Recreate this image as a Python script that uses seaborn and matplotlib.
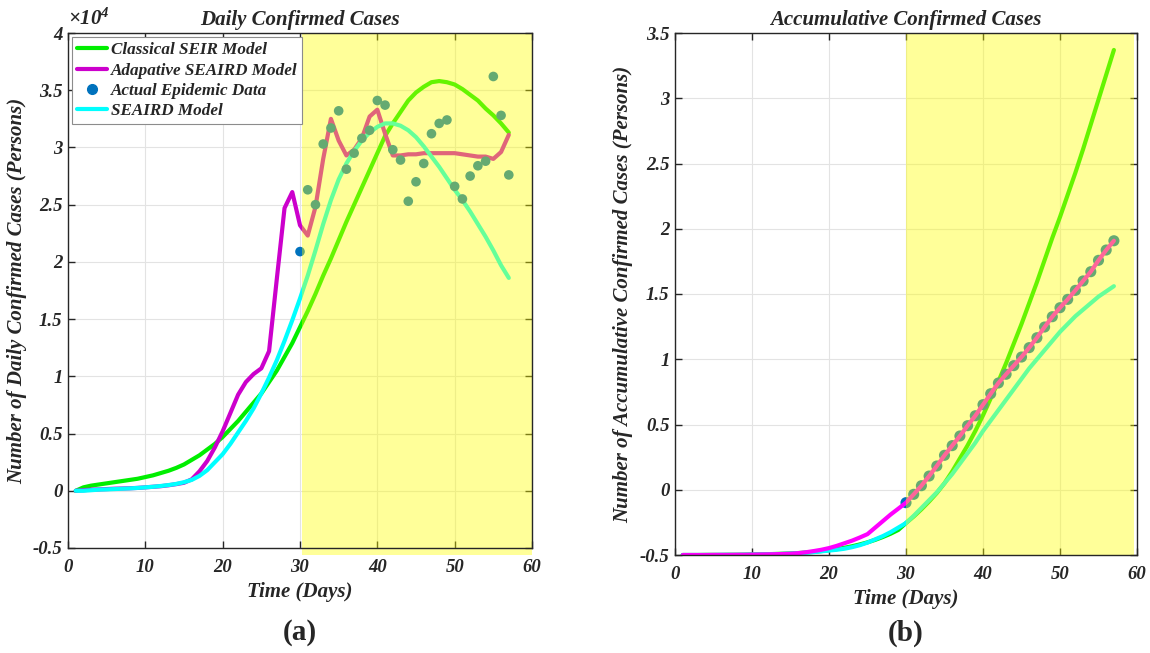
import numpy as np
import pandas as pd
import seaborn as sns
import matplotlib
matplotlib.use("Agg")
import matplotlib.pyplot as plt
from matplotlib.patches import Rectangle
from matplotlib.lines import Line2D
from matplotlib.ticker import FuncFormatter, MultipleLocator

# ---------------- data (daily cases in units of 1e4) ----------------
days = np.arange(1, 58)
days_obs = np.arange(30, 58)

seir_daily = [0.00, 0.03, 0.045, 0.055, 0.065, 0.075, 0.085, 0.095, 0.105, 0.12,
              0.135, 0.155, 0.175, 0.20, 0.23, 0.27, 0.31, 0.36, 0.41, 0.47,
              0.54, 0.61, 0.69, 0.77, 0.85, 0.95, 1.05, 1.17, 1.29, 1.43,
              1.57, 1.72, 1.88, 2.03, 2.19, 2.35, 2.50, 2.65, 2.80, 2.95,
              3.10, 3.21, 3.31, 3.41, 3.48, 3.53, 3.57, 3.58, 3.57, 3.55,
              3.51, 3.46, 3.41, 3.34, 3.28, 3.21, 3.13]

adaptive_daily = [0.00, 0.005, 0.01, 0.012, 0.015, 0.018, 0.02, 0.022, 0.025, 0.03,
                  0.035, 0.04, 0.048, 0.058, 0.07, 0.10, 0.17, 0.26, 0.38, 0.52,
                  0.68, 0.84, 0.95, 1.02, 1.07, 1.22, 1.85, 2.47, 2.61, 2.32,
                  2.23, 2.48, 2.90, 3.25, 3.06, 2.93, 2.98, 3.08, 3.27, 3.33,
                  3.12, 2.93, 2.93, 2.94, 2.94, 2.95, 2.95, 2.95, 2.95, 2.95,
                  2.94, 2.93, 2.92, 2.92, 2.90, 2.96, 3.11]

seaird_daily = [0.00, 0.00, 0.005, 0.01, 0.012, 0.015, 0.018, 0.021, 0.025, 0.03,
                0.035, 0.042, 0.05, 0.06, 0.075, 0.095, 0.13, 0.18, 0.25, 0.32,
                0.41, 0.51, 0.61, 0.72, 0.85, 0.99, 1.14, 1.31, 1.49, 1.68,
                1.88, 2.10, 2.33, 2.54, 2.72, 2.86, 2.97, 3.06, 3.13, 3.18,
                3.21, 3.21, 3.19, 3.15, 3.09, 3.01, 2.92, 2.83, 2.73, 2.63,
                2.54, 2.44, 2.33, 2.22, 2.10, 1.97, 1.86]

actual_daily = [2.09, 2.63, 2.50, 3.03, 3.17, 3.32, 2.81, 2.95, 3.08, 3.15,
                3.41, 3.37, 2.98, 2.89, 2.53, 2.70, 2.86, 3.12, 3.21, 3.24,
                2.66, 2.55, 2.75, 2.84, 2.88, 3.62, 3.28, 2.76]

# ---------------- accumulative cases ----------------
seir_cum = [-0.500, -0.500, -0.500, -0.499, -0.499, -0.499, -0.498, -0.498, -0.497, -0.496,
            -0.495, -0.494, -0.492, -0.490, -0.488, -0.485, -0.481, -0.476, -0.470, -0.463,
            -0.455, -0.445, -0.433, -0.419, -0.403, -0.384, -0.362, -0.337, -0.308, -0.255,
            -0.205, -0.150, -0.090, -0.025, 0.050, 0.140, 0.240, 0.340, 0.450, 0.570,
            0.700, 0.830, 0.970, 1.120, 1.270, 1.430, 1.590, 1.760, 1.930, 2.090,
            2.260, 2.430, 2.610, 2.800, 2.990, 3.180, 3.370]

adaptive_cum = [-0.500, -0.500, -0.500, -0.500, -0.499, -0.499, -0.499, -0.498, -0.498, -0.497,
                -0.496, -0.495, -0.494, -0.492, -0.490, -0.486, -0.479, -0.470, -0.460, -0.447,
                -0.430, -0.410, -0.390, -0.366, -0.340, -0.290, -0.240, -0.190, -0.145, -0.099,
                -0.035, 0.031, 0.105, 0.182, 0.264, 0.338, 0.412, 0.491, 0.567, 0.652,
                0.736, 0.818, 0.885, 0.951, 1.017, 1.089, 1.165, 1.247, 1.326, 1.395,
                1.459, 1.528, 1.600, 1.671, 1.758, 1.837, 1.908]

seaird_cum = [-0.500, -0.500, -0.500, -0.500, -0.500, -0.499, -0.499, -0.499, -0.498, -0.497,
              -0.496, -0.495, -0.494, -0.492, -0.490, -0.487, -0.483, -0.478, -0.472, -0.466,
              -0.460, -0.452, -0.440, -0.425, -0.405, -0.380, -0.355, -0.325, -0.290, -0.255,
              -0.200, -0.140, -0.080, -0.020, 0.050, 0.120, 0.200, 0.280, 0.360, 0.450,
              0.530, 0.610, 0.690, 0.770, 0.850, 0.930, 1.000, 1.070, 1.140, 1.210,
              1.270, 1.330, 1.380, 1.430, 1.480, 1.520, 1.560]

actual_cum = [-0.099, -0.035, 0.031, 0.105, 0.182, 0.264, 0.338, 0.412, 0.491, 0.567,
              0.652, 0.736, 0.818, 0.885, 0.951, 1.017, 1.089, 1.165, 1.247, 1.326,
              1.395, 1.459, 1.528, 1.600, 1.671, 1.758, 1.837, 1.908]

labels = ["Classical SEIR Model", "Adapative SEAIRD Model",
          "Actual Epidemic Data", "SEAIRD Model"]

# ---------------- style ----------------
sns.set_theme(style="whitegrid")
plt.rcParams.update({
    "font.family": ["Liberation Serif", "DejaVu Serif"],
    "font.weight": "bold",
    "font.style": "italic",
    "axes.labelweight": "bold",
    "axes.titleweight": "bold",
    "mathtext.fontset": "custom",
    "mathtext.rm": "Liberation Serif:italic",
    "mathtext.it": "Liberation Serif:italic",
    "axes.edgecolor": "#262626",
    "axes.linewidth": 1.0,
    "grid.color": "#e3e3e3",
    "grid.linewidth": 0.8,
    "xtick.direction": "in",
    "ytick.direction": "in",
    "xtick.top": True,
    "ytick.right": True,
    "xtick.bottom": True,
    "ytick.left": True,
    "xtick.major.size": 5,
    "ytick.major.size": 5,
    "xtick.color": "#262626",
    "ytick.color": "#262626",
})

GREEN = "#00ee00"
BLUE = "#0072bd"
CYAN = "#00ffff"
MAG_A = "#cc00cc"
MAG_B = "#ff00ff"
LW = 3.0
TICK_FS = 13.5
LAB_FS = 15
TITLE_FS = 15
LEG_FS = 12.3

fig = plt.figure(figsize=(11.5, 6.53), dpi=100)
axA = fig.add_axes([68 / 1150, 1 - 548 / 653, 464 / 1150, 515 / 653])
axB = fig.add_axes([675 / 1150, 1 - 555 / 653, 462 / 1150, 522 / 653])

fmt = FuncFormatter(lambda v, p: f"{v:g}")

# ---------------- (a) daily ----------------
sns.lineplot(x=days, y=seir_daily, ax=axA, color=GREEN, lw=LW, estimator=None, zorder=2)
sns.lineplot(x=days, y=adaptive_daily, ax=axA, color=MAG_A, lw=LW, estimator=None, zorder=2)
sns.lineplot(x=days, y=seaird_daily, ax=axA, color=CYAN, lw=LW, estimator=None, zorder=2)
sns.scatterplot(x=days_obs, y=actual_daily, ax=axA, color=BLUE, s=48,
                edgecolor="none", zorder=2.5)
axA.add_patch(Rectangle((30.3, -0.56), 29.7, 4.56, facecolor="yellow", alpha=0.4,
                        edgecolor="none", zorder=3, clip_on=False))

axA.set_xlim(0, 60)
axA.set_ylim(-0.5, 4)
axA.yaxis.set_major_locator(MultipleLocator(0.5))
axA.xaxis.set_major_locator(MultipleLocator(10))
axA.yaxis.set_major_formatter(fmt)
axA.set_title("Daily Confirmed Cases", fontsize=TITLE_FS, pad=6)
axA.set_xlabel("Time (Days)", fontsize=LAB_FS, labelpad=4)
axA.set_ylabel("Number of Daily Confirmed Cases (Persons)", fontsize=LAB_FS)
axA.yaxis.set_label_coords(-0.088, 0.5)
axA.text(0.0, 1.006, r"$\times10^{4}$", transform=axA.transAxes, fontsize=15,
         ha="left", va="bottom")

handles = [Line2D([], [], color=GREEN, lw=LW),
           Line2D([], [], color=MAG_A, lw=LW),
           Line2D([], [], color=BLUE, lw=0, marker="o", markersize=7),
           Line2D([], [], color=CYAN, lw=LW)]
leg = axA.legend(handles, labels, loc="upper left", fontsize=LEG_FS, frameon=True,
                 fancybox=False, framealpha=1, edgecolor="#8c8c8c",
                 handlelength=1.75, handletextpad=0.2, labelspacing=0.25,
                 borderpad=0.3, borderaxespad=0.25)
leg.get_frame().set_linewidth(0.8)
leg.set_zorder(10)

# ---------------- (b) accumulative ----------------
sns.lineplot(x=days, y=seir_cum, ax=axB, color=GREEN, lw=LW, estimator=None, zorder=2)
sns.lineplot(x=days, y=seaird_cum, ax=axB, color=CYAN, lw=LW, estimator=None, zorder=2)
sns.scatterplot(x=days_obs, y=actual_cum, ax=axB, color=BLUE, s=64,
                edgecolor="none", zorder=2.2)
sns.lineplot(x=days, y=adaptive_cum, ax=axB, color=MAG_B, lw=LW, estimator=None, zorder=2.5)
axB.add_patch(Rectangle((30.0, -0.5), 29.6, 4.0, facecolor="yellow", alpha=0.4,
                        edgecolor="none", zorder=3, clip_on=False))

axB.set_xlim(0, 60)
axB.set_ylim(-0.5, 3.5)
axB.yaxis.set_major_locator(MultipleLocator(0.5))
axB.xaxis.set_major_locator(MultipleLocator(10))
axB.yaxis.set_major_formatter(fmt)
axB.set_title("Accumulative Confirmed Cases", fontsize=TITLE_FS, pad=6)
axB.set_xlabel("Time (Days)", fontsize=LAB_FS, labelpad=4)
axB.set_ylabel("Number of Accumulative Confirmed Cases (Persons)", fontsize=LAB_FS)
axB.yaxis.set_label_coords(-0.091, 0.5)

for ax in (axA, axB):
    ax.tick_params(labelsize=TICK_FS, width=1.0)
    ax.tick_params(axis="x", pad=8)
    ax.tick_params(axis="y", pad=4)
    ax.grid(True, zorder=0)
    ax.set_axisbelow(True)
    for s in ax.spines.values():
        s.set_color("#262626")
        s.set_linewidth(1.0)
        s.set_zorder(5)

fig.text(300 / 1150, 1 - 633 / 653, "(a)", fontsize=21, fontweight="bold",
         fontstyle="normal", ha="center", va="center")
fig.text(906 / 1150, 1 - 633 / 653, "(b)", fontsize=21, fontweight="bold",
         fontstyle="normal", ha="center", va="center")

fig.savefig("out.png", dpi=100)
